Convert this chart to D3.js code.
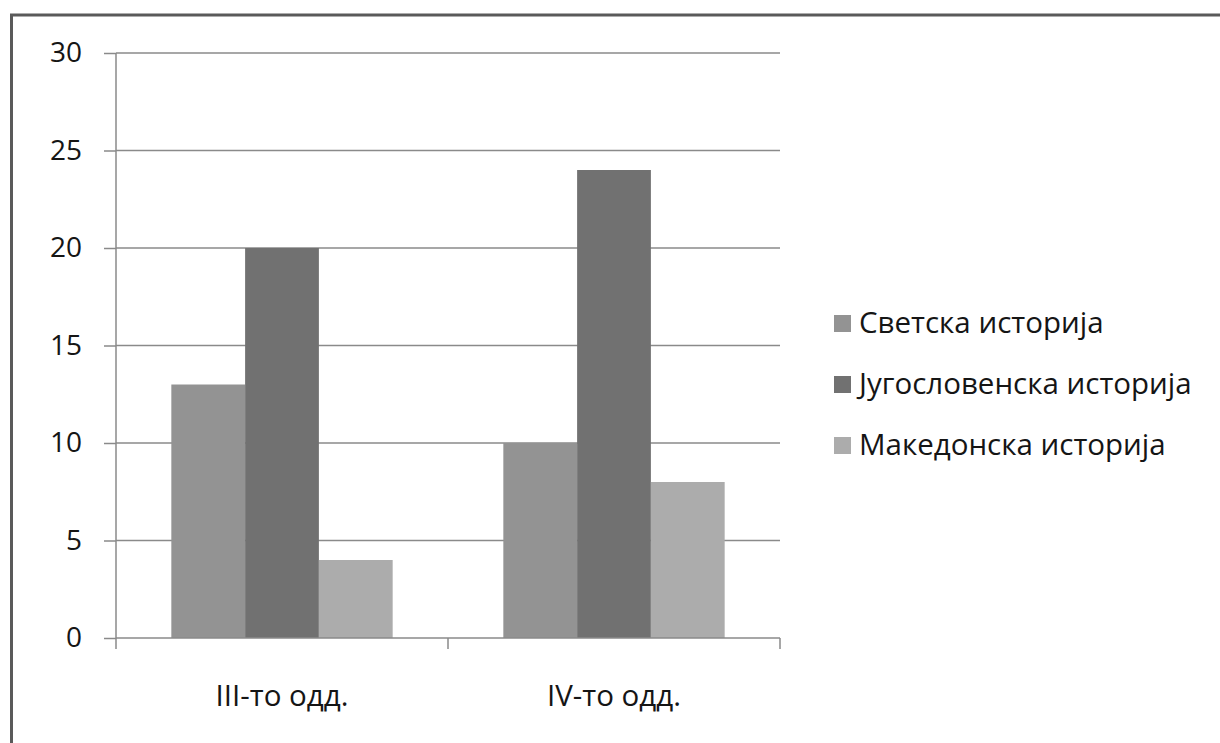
<!DOCTYPE html>
<html>
<head>
<meta charset="utf-8">
<script src="https://cdn.jsdelivr.net/npm/d3@7"></script>
<style>
  body { margin: 0; background: #fff; }
  text { font-family: "Open Sans", "Noto Sans", sans-serif; fill: #151515; }
</style>
</head>
<body>
<svg id="chart" width="1220" height="743"></svg>
<script>
// # DATA
// # ------------------------------
var categories    = ["III-то одд.", "IV-то одд."];
var series_names  = ["Светска историја", "Југословенска историја", "Македонска историја"];
var svetska       = [13, 10];
var jugoslovenska = [20, 24];
var makedonska    = [4, 8];
var y_ticks       = [0, 5, 10, 15, 20, 25, 30];
var series_colors = ["#939393", "#717171", "#acacac"];

var series_values = [svetska, jugoslovenska, makedonska];

// # LAYOUT
// # ------------------------------
var svg = d3.select("#chart");
var plot_left = 116, plot_right = 780, plot_top = 53, plot_bottom = 638;

var x0 = d3.scaleBand().domain(categories).range([plot_left, plot_right]);
var x1 = d3.scaleBand().domain(series_names).range([0, x0.bandwidth()]).paddingOuter(0.75);
var y  = d3.scaleLinear().domain([0, 30]).range([plot_bottom, plot_top]);
var color = d3.scaleOrdinal().domain(series_names).range(series_colors);

// ## frame (scanned page edge)
svg.append("line").attr("x1", 10).attr("x2", 1220).attr("y1", 15).attr("y2", 15)
   .attr("stroke", "#5a5a5a").attr("stroke-width", 3);
svg.append("line").attr("x1", 11.5).attr("x2", 11.5).attr("y1", 14).attr("y2", 743)
   .attr("stroke", "#5a5a5a").attr("stroke-width", 3);

// ## gridlines
svg.append("g")
   .selectAll("line")
   .data(y_ticks.filter(function(d) { return d > 0; }))
   .enter().append("line")
   .attr("x1", plot_left).attr("x2", plot_right)
   .attr("y1", function(d) { return y(d); })
   .attr("y2", function(d) { return y(d); })
   .attr("stroke", "#8a8a8a").attr("stroke-width", 1.5);

// ## bars
var rows = [];
categories.forEach(function(c, i) {
  series_names.forEach(function(s, j) {
    rows.push({cat: c, series: s, value: series_values[j][i]});
  });
});

svg.append("g")
   .selectAll("rect")
   .data(rows)
   .enter().append("rect")
   .attr("x", function(d) { return x0(d.cat) + x1(d.series); })
   .attr("y", function(d) { return y(d.value); })
   .attr("width", x1.bandwidth())
   .attr("height", function(d) { return plot_bottom - y(d.value); })
   .attr("fill", function(d) { return color(d.series); });

// ## y axis
var yAxis = svg.append("g")
   .attr("transform", "translate(" + plot_left + ",0)")
   .call(d3.axisLeft(y).tickValues(y_ticks).tickSize(12).tickPadding(22));
yAxis.selectAll("line, path").attr("stroke", "#8a8a8a").attr("stroke-width", 1.5);
yAxis.select("path").attr("d", "M0," + plot_top + "V" + plot_bottom);
yAxis.selectAll("text").attr("fill", "#151515")
     .style("font-size", "28px")
     .style("font-family", "'Open Sans', sans-serif");

// ## x axis
var xTickPos = [plot_left].concat(categories.map(function(c) { return x0(c) + x0.bandwidth(); }));
var xAxis = svg.append("g");
xAxis.append("line")
     .attr("x1", plot_left).attr("x2", plot_right)
     .attr("y1", plot_bottom).attr("y2", plot_bottom)
     .attr("stroke", "#8a8a8a").attr("stroke-width", 1.5);
xAxis.selectAll(".tick")
     .data(xTickPos)
     .enter().append("line")
     .attr("class", "tick")
     .attr("x1", function(d) { return d; }).attr("x2", function(d) { return d; })
     .attr("y1", plot_bottom).attr("y2", plot_bottom + 11)
     .attr("stroke", "#8a8a8a").attr("stroke-width", 1.5);
xAxis.selectAll("text")
     .data(categories)
     .enter().append("text")
     .attr("x", function(d) { return x0(d) + x0.bandwidth() / 2; })
     .attr("y", 706)
     .attr("text-anchor", "middle")
     .style("font-size", "29.5px")
     .text(function(d) { return d; });

// ## legend
var legend = svg.append("g").selectAll("g")
   .data(series_names)
   .enter().append("g")
   .attr("transform", function(d, i) { return "translate(834," + (323 + i * 61) + ")"; });

legend.append("rect")
   .attr("x", 0).attr("y", -8).attr("width", 17).attr("height", 17)
   .attr("fill", function(d) { return color(d); });
legend.append("text")
   .attr("x", 25).attr("y", 10)
   .style("font-size", "29.5px")
   .text(function(d) { return d; });
</script>
</body>
</html>
